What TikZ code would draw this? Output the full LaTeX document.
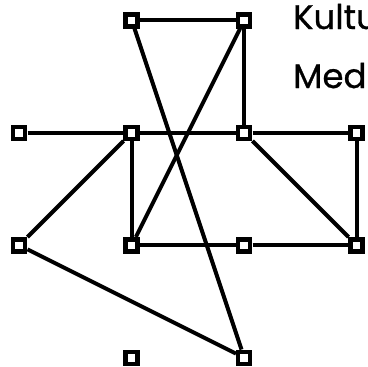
\documentclass[tikz,border=0pt]{standalone}
\usepackage{fontspec}
\setmainfont{Poppins}[FakeBold=0.8]
\usetikzlibrary{matrix,positioning}
\tikzset{
	vert/.style={draw,fill=white,line width=4.5pt,minimum size=12pt,inner sep=0pt},
	link/.style={line width=4pt},
	caption/.style={anchor=base west,inner sep=0pt,font=\fontsize{34}{36}\selectfont}
}
\begin{document}
\begin{tikzpicture}[x=1pt,y=-1pt]
	\useasboundingbox (0,0) rectangle (367,367);
	\matrix (m) at (188,189) [matrix of nodes,nodes=vert,
		row sep={112.5pt,between origins},column sep={112.5pt,between origins}]
	{
		   & {} & {} &    \\
		{} & {} & {} & {} \\
		{} & {} & {} & {} \\
		   & {} & {} &    \\};
	\path[link]
	(m-1-2) edge (m-1-3)
	(m-1-2) edge (m-4-3)
	(m-1-3) edge (m-3-2)
	(m-1-3) edge (m-2-3)
	(m-2-1) edge (m-2-2)
	(m-2-2) edge (m-2-3)
	(m-2-3) edge (m-2-4)
	(m-2-2) edge (m-3-1)
	(m-2-2) edge (m-3-2)
	(m-3-2) edge (m-3-3)
	(m-3-3) edge (m-3-4)
	(m-2-3) edge (m-3-4)
	(m-2-4) edge (m-3-4)
	(m-3-1) edge (m-4-3);
	\node (kultur) [caption] at (293,29) {Kultu};
	\node (medien) [caption] at (293,88) {Med};
\end{tikzpicture}
\end{document}
